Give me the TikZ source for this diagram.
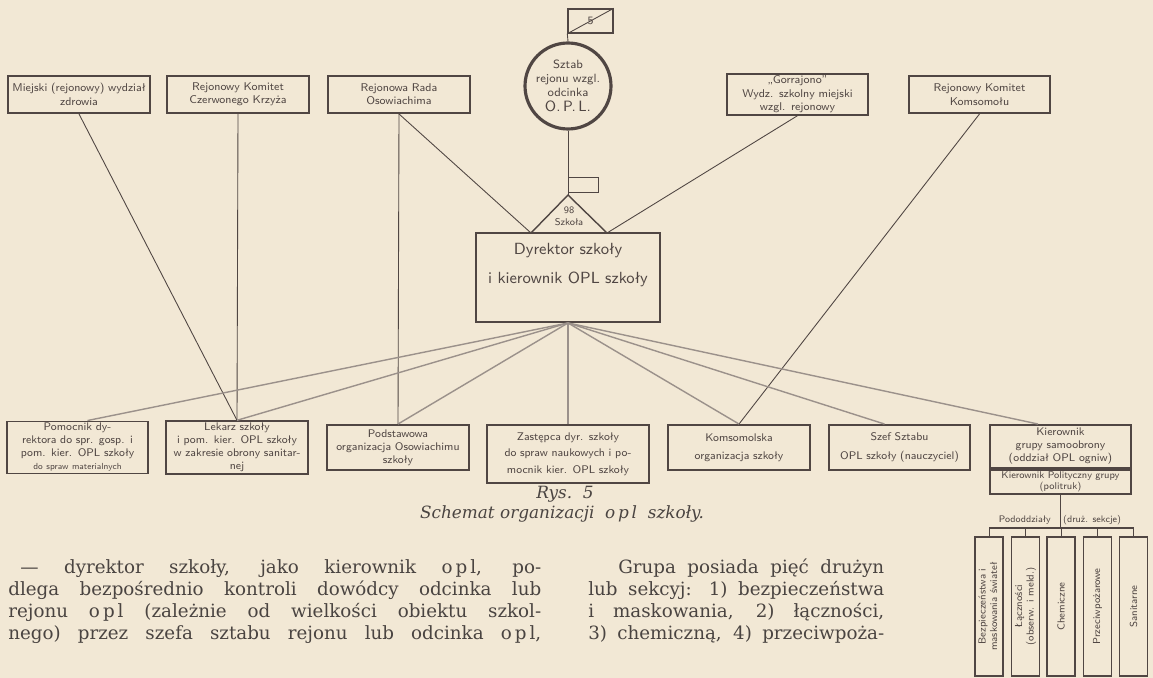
\documentclass[tikz,border=0pt]{standalone}
\usepackage{fontspec}
\usepackage{graphicx}
\usetikzlibrary{positioning}
\newfontfamily\bodyfont{DejaVu Serif}

\definecolor{paper}{RGB}{242,232,213}
\definecolor{ink}{RGB}{80,70,67}
\definecolor{fanline}{RGB}{155,145,139}
\definecolor{print}{RGB}{74,68,65}

\begin{document}
\begin{tikzpicture}[
  x=0.02cm,y=-0.02cm,
  font=\sffamily\fontsize{6.4}{7.6}\selectfont,
  box/.style={draw=ink,line width=1.1pt,align=center,inner sep=1pt,text=ink,
              minimum width=2.82cm,minimum height=0.74cm,text width=2.76cm},
  unit/.style={box,minimum height=0.9cm,font=\sffamily\fontsize{6.3}{7.4}\selectfont},
  vbox/.style={draw=ink,line width=1.1pt,inner sep=0pt,text=ink,
               minimum width=0.56cm,minimum height=2.78cm,
               font=\sffamily\fontsize{5.8}{6.6}\selectfont},
  link/.style={draw=ink,line width=0.5pt},
  fan/.style={draw=fanline,line width=0.8pt},
  body/.style={font=\bodyfont\fontsize{10.4}{12.52}\selectfont,text=print,
               align=justify,inner sep=0pt,anchor=north west},
  capt/.style={font=\bodyfont\itshape\fontsize{9.6}{12}\selectfont,text=print}
]

\fill[paper] (0,0) rectangle (1153,678);
\useasboundingbox (0,0) rectangle (1153,678);

% instytucje nadrzedne
\node[box] (m1) at (79,94.5) {Miejski (rejonowy) wydział\\zdrowia};
\node[box] (m2) at (238,94.5) {Rejonowy Komitet\\Czerwonego Krzyża};
\node[box] (m3) at (399,94.5) {Rejonowa Rada\\Osowiachima};
\node[box] (m4) at (797.5,94.5) {„Gorrajono”\\Wydz. szkolny miejski\\wzgl. rejonowy};
\node[box] (m5) at (979.5,94.5) {Rejonowy Komitet\\Komsomołu};

% sztab z choragiewka
\node[draw=ink,line width=0.8pt,minimum width=0.9cm,minimum height=0.48cm,
      inner sep=0pt,text=ink] (flag) at (590.5,21) {5};
\draw[link] (flag.south west) -- (flag.north east);
\node[circle,draw=ink,line width=1.8pt,minimum size=1.72cm,inner sep=0pt,
      align=center,text=ink,font=\sffamily\fontsize{6.8}{7.8}\selectfont] (szt) at (568,86)
  {Sztab\\rejonu wzgl.\\odcinka\\[1pt]{\fontsize{8.5}{9}\selectfont O.\,P.\,L.}};
\draw[link] (flag.south west) -- (szt.north);

\coordinate (apex) at (568,195);
\coordinate (tl) at (531,233);
\coordinate (tr) at (607,233);
\draw[link] (szt.south) -- (apex);
\node[draw=ink,line width=0.8pt,minimum width=0.6cm,minimum height=0.3cm,
      inner sep=0pt,anchor=north west] (pen) at (568,177) {};
\draw[ink,line width=0.8pt] (tl) -- (apex) -- (tr);
\node[align=center,text=ink,inner sep=0pt,font=\sffamily\fontsize{5.6}{6.6}\selectfont]
  (szk) at (569,216) {98\\Szkoła};

% dyrektor
\node[box,minimum width=3.68cm,minimum height=1.78cm,text width=3.5cm,
      font=\sffamily\fontsize{9.2}{10}\selectfont] (dir) at (568,277.5)
  {Dyrektor szkoły\\[6pt]i kierownik OPL szkoły\\[6pt]\mbox{}};
\draw[ink,line width=1.6pt] (tl) -- (tr);

% komorki szkolne
\node[unit] (b1) at (77.5,447.5) {Pomocnik dy-\\rektora do spr. gosp. i\\pom. kier. OPL szkoły\\{\fontsize{5}{5.5}\selectfont do spraw materialnych}};
\node[unit] (b2) at (237,447.5) {Lekarz szkoły\\i pom. kier. OPL szkoły\\w zakresie obrony sanitar-\\nej};
\node[unit] (b3) at (398,447.5) {Podstawowa\\organizacja Osowiachimu\\szkoły};
\node[unit,minimum width=3.24cm,minimum height=1.16cm,text width=3.1cm] (b4) at (568,454)
  {Zastępca dyr. szkoły\\[2pt]do spraw naukowych i po-\\[2pt]mocnik kier. OPL szkoły};
\node[unit] (b5) at (739,447.5) {Komsomolska\\[3pt]organizacja szkoły};
\node[unit] (b6) at (899.5,447.5) {Szef Sztabu\\[3pt]OPL szkoły (nauczyciel)};
\node[unit,minimum height=0.86cm] (b7) at (1060.5,446.5) {Kierownik\\grupy samoobrony\\(oddział OPL ogniw)};
\node[box,minimum height=0.48cm,below=0pt of b7,
      font=\sffamily\fontsize{5.6}{6.2}\selectfont] (pol) {Kierownik Polityczny grupy\\(politruk)};

% linie od instytucji
\draw[link] (m1.south) -- (b2.north);
\draw[link] (m2.south) -- (b2.north);
\draw[link] (m3.south) -- (b3.north);
\draw[link] (m3.south) -- (tl);
\draw[link] (m4.south) -- (tr);
\draw[link] (m5.south) -- (b5.north);

% linie od dyrektora
\draw[fan] (dir.south) -- ([xshift=0.2cm]b1.north);
\draw[fan] (dir.south) -- (b2.north);
\draw[fan] (dir.south) -- (b3.north);
\draw[fan] (dir.south) -- (b4.north);
\draw[fan] (dir.south) -- (b5.north);
\draw[fan] (dir.south) -- ([xshift=-0.3cm]b6.north);
\draw[fan] (dir.south) -- ([xshift=-0.45cm]b7.north);

% pododdzialy grupy
\node[text=ink,inner sep=0pt,font=\sffamily\fontsize{5.4}{6}\selectfont] (pod) at (1060,520)
  {Pododdziały\hspace{7pt}(druż. sekcje)};
\coordinate (barL) at (989,528);
\coordinate (barR) at (1134,528);
\draw[ink,line width=1.7pt] (barL) -- (barR);
\draw[link] (pol.south) -- (pol.south |- barL);

\node[vbox] (v1) at (989,606.5) {\rotatebox{90}{\begin{tabular}{@{}c@{}}Bezpieczeństwa i\\maskowania świateł\end{tabular}}};
\node[vbox] (v2) at (1025.5,606.5) {\rotatebox{90}{\begin{tabular}{@{}c@{}}Łączności\\(obserw. i meld.)\end{tabular}}};
\node[vbox] (v3) at (1061,606.5) {\rotatebox{90}{Chemiczne}};
\node[vbox] (v4) at (1097.5,606.5) {\rotatebox{90}{Przeciwpożarowe}};
\node[vbox] (v5) at (1133.5,606.5) {\rotatebox{90}{Sanitarne}};
\draw[link] (v1.north |- barL) -- (v1.north);
\draw[link] (v2.north |- barL) -- (v2.north);
\draw[link] (v3.north |- barL) -- (v3.north);
\draw[link] (v4.north |- barL) -- (v4.north);
\draw[link] (v5.north |- barL) -- (v5.north);

% podpis i tekst
\node[capt] (rys) at (565,494) {Rys.~~5};
\node[capt] (tyt) at (562,514) {Schemat organizacji~~o\,p\,l~~szkoły.};

\node[body,text width=10.66cm] (txtL) at (8,559)
  {\hspace*{0.24cm}— dyrektor szkoły, jako kierownik o\,p\,l, po-\linebreak
   dlega bezpośrednio kontroli dowódcy odcinka lub\linebreak
   rejonu o\,p\,l (zależnie od wielkości obiektu szkol-\linebreak
   nego) przez szefa sztabu rejonu lub odcinka o\,p\,l,\parfillskip=0pt\par};
\node[body,text width=5.92cm] (txtR) at (588,559)
  {\hspace*{0.6cm}Grupa posiada pięć drużyn\linebreak
   lub sekcyj: 1) bezpieczeństwa\linebreak
   i maskowania, 2) łączności,\linebreak
   3) chemiczną, 4) przeciwpoża-\parfillskip=0pt\par};

\end{tikzpicture}
\end{document}
